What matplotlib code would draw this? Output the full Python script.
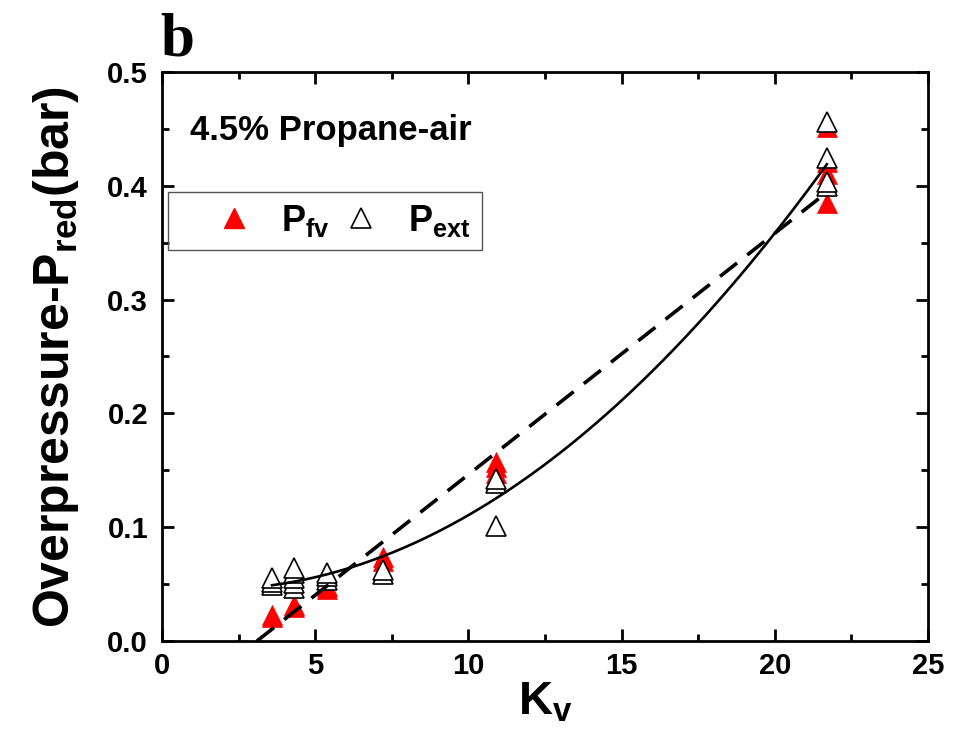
import matplotlib
matplotlib.use("Agg")
import matplotlib.pyplot as plt
import numpy as np
from matplotlib.patches import Rectangle
from matplotlib.lines import Line2D

# Flame-venting overpressure (P_fv) and external explosion overpressure (P_ext)
kv_fv = [3.6, 3.6, 4.3, 4.3, 5.4, 5.4, 7.2, 7.2,
         10.9, 10.9, 10.9, 21.7, 21.7, 21.7, 21.7]
p_fv = [0.021, 0.023, 0.030, 0.032, 0.046, 0.048, 0.070, 0.074,
        0.148, 0.153, 0.157, 0.385, 0.410, 0.421, 0.452]

kv_ext = [3.6, 3.6, 3.6, 4.3, 4.3, 4.3, 4.3, 4.3, 5.4, 5.4, 5.4,
          7.2, 7.2, 10.9, 10.9, 10.9, 21.7, 21.7, 21.7, 21.7]
p_ext = [0.049, 0.052, 0.055, 0.047, 0.051, 0.055, 0.060, 0.064,
         0.054, 0.057, 0.060, 0.059, 0.062, 0.101, 0.139, 0.142,
         0.400, 0.403, 0.424, 0.456]

# Fitted trends: linear through P_fv, quadratic through P_ext
lin_x0, lin_slope = 3.1, 0.0212
lin_range = (3.1, 21.6)
quad_coef = (0.000925, -0.002966, 0.04773)   # c2, c1, c0
quad_range = (3.59, 21.7)

x_ticks = [0, 5, 10, 15, 20, 25]
y_ticks = [0.0, 0.1, 0.2, 0.3, 0.4, 0.5]

plt.rcParams['font.family'] = ['Liberation Sans', 'DejaVu Sans']
plt.rcParams['font.weight'] = 'bold'
plt.rcParams['mathtext.fontset'] = 'custom'
plt.rcParams['mathtext.rm'] = 'Liberation Sans:bold'
plt.rcParams['mathtext.it'] = 'Liberation Sans:bold'
plt.rcParams['mathtext.bf'] = 'Liberation Sans:bold'

fig = plt.figure(figsize=(9.63, 7.5), dpi=100)
ax = fig.add_axes([162 / 963, 1 - 641 / 750, (928 - 162) / 963, (641 - 72) / 750])

ms = 15
ax.plot(kv_fv, p_fv, linestyle='none', marker='^', ms=ms,
        mfc='#ff0000', mec='#ff0000', mew=0.5, zorder=2)
ax.plot(kv_ext, p_ext, linestyle='none', marker='^', ms=ms,
        mfc='white', mec='black', mew=1.2, zorder=3)

xl = np.linspace(*lin_range, 50)
ax.plot(xl, lin_slope * (xl - lin_x0), color='black', lw=2.6,
        linestyle=(0, (6, 3.6)), zorder=4)
xq = np.linspace(*quad_range, 200)
ax.plot(xq, np.polyval(quad_coef, xq), color='black', lw=1.9, zorder=4)

ax.set_xlim(0, 25)
ax.set_ylim(0, 0.5)
ax.set_xticks(x_ticks)
ax.set_yticks(y_ticks)
ax.set_xticks(np.arange(2.5, 25, 5), minor=True)
ax.set_yticks(np.arange(0.05, 0.5, 0.1), minor=True)
ax.set_xticklabels([str(v) for v in x_ticks])
ax.set_yticklabels([f"{v:.1f}" for v in y_ticks])
ax.tick_params(which='both', direction='in', top=True, right=True, width=2)
ax.tick_params(which='major', length=8.5, labelsize=21)
ax.tick_params(axis='x', which='major', pad=8)
ax.tick_params(axis='y', which='major', pad=10)
ax.tick_params(which='minor', length=5)
for s in ax.spines.values():
    s.set_linewidth(2)

ax.set_xlabel(r'K$_{v}$', fontsize=34, fontweight='bold', labelpad=0)
ax.set_ylabel(r'Overpressure-P$_{red}$(bar)', fontsize=36, fontweight='bold', labelpad=19)

ax.text((190 - 162) / 766, (641 - 140) / 569, '4.5% Propane-air',
        transform=ax.transAxes, fontsize=25, fontweight='bold', va='baseline', ha='left')

# Legend frame and entries
ax.add_patch(Rectangle(((168 - 162) / 766, (641 - 250) / 569), (482 - 168) / 766, 58 / 569,
                       transform=ax.transAxes, fill=False, edgecolor='#555555', lw=1.0, zorder=5))
handles = [Line2D([], [], linestyle='none', marker='^', ms=ms, mfc='#ff0000', mec='#ff0000'),
           Line2D([], [], linestyle='none', marker='^', ms=ms, mfc='white', mec='black', mew=1.2)]
leg = ax.legend(handles, [r'P$_{fv}$', r'P$_{ext}$'], ncol=2, frameon=False,
                loc='center left', bbox_to_anchor=((209 - 162) / 766, (641 - 221) / 569),
                borderaxespad=0, borderpad=0, fontsize=26, handlelength=1.4,
                handletextpad=0.6, columnspacing=0.15, numpoints=1)

fig.text(160 / 963, 1 - 55 / 750, 'b', family='Liberation Serif', fontweight='bold',
         fontsize=44, va='baseline', ha='left')

fig.savefig('out.png', dpi=100)
